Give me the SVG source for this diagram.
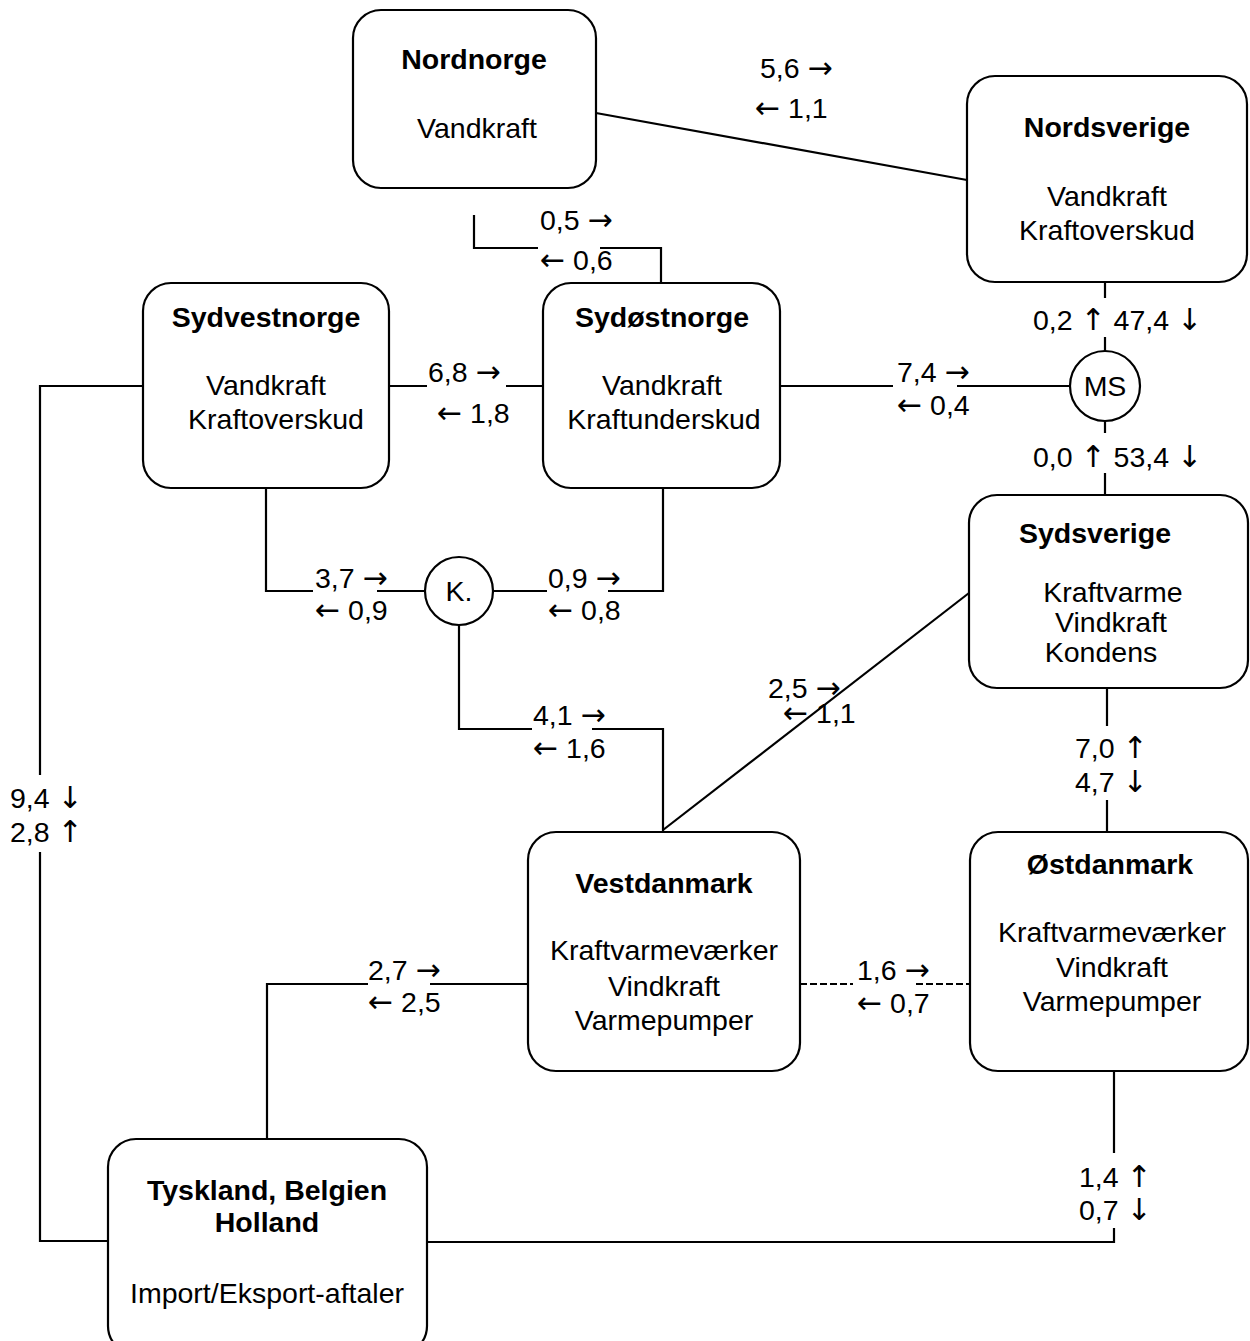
<svg xmlns="http://www.w3.org/2000/svg" width="1250" height="1341" viewBox="0 0 1250 1341">
<style>
.box{fill:#fff;stroke:#000;stroke-width:2.2}
.ln{fill:none;stroke:#000;stroke-width:2.2}
.dash{fill:none;stroke:#000;stroke-width:2;stroke-dasharray:7 3}
text{font-family:"Liberation Sans",Arial,sans-serif;font-size:28.5px;fill:#000}
.ar{font-family:"DejaVu Sans",sans-serif;font-size:30px}
.t{font-weight:bold;text-anchor:middle}
.b{text-anchor:middle}
</style>
<rect width="1250" height="1341" fill="#fff"/>
<g id="connectors">
<path class="ln" d="M596,113 L967,180"/>
<path class="ln" d="M474,215 V248 H538 M600,248 H661 V283"/>
<path class="ln" d="M389,386 H427 M506,386 H543"/>
<path class="ln" d="M780,386 H893 M957,386 H1070"/>
<path class="ln" d="M1105,282 V298 M1105,337 V351"/>
<path class="ln" d="M1105,421 V433 M1105,473 V495"/>
<path class="ln" d="M266,488 V591 H313 M377,591 H425"/>
<path class="ln" d="M493,591 H547 M608,591 H663 V488"/>
<path class="ln" d="M459,625 V729 H532 M592,729 H663 V832"/>
<path class="ln" d="M663,830 L969,593"/>
<path class="ln" d="M1107,688 V726 M1107,800 V832"/>
<path class="dash" d="M800,984 H853 M916,984 H970"/>
<path class="ln" d="M1114,1071 V1153 M1114,1228 V1242 H427"/>
<path class="ln" d="M528,984 H430 M368,984 H267 V1139"/>
<path class="ln" d="M143,386 H40 V775 M40,852 V1241 H108"/>
</g>
<g id="labels">
<text x="760" y="78">5,6 <tspan class="ar">→</tspan></text>
<text x="755" y="118"><tspan class="ar">←</tspan> 1,1</text>
<text x="540" y="230">0,5 <tspan class="ar">→</tspan></text>
<text x="540" y="270"><tspan class="ar">←</tspan> 0,6</text>
<text x="428" y="382">6,8 <tspan class="ar">→</tspan></text>
<text x="437" y="423"><tspan class="ar">←</tspan> 1,8</text>
<text x="897" y="382">7,4 <tspan class="ar">→</tspan></text>
<text x="897" y="415"><tspan class="ar">←</tspan> 0,4</text>
<text x="1033" y="330">0,2 <tspan class="ar">↑</tspan> 47,4 <tspan class="ar">↓</tspan></text>
<text x="1033" y="467">0,0 <tspan class="ar">↑</tspan> 53,4 <tspan class="ar">↓</tspan></text>
<text x="315" y="588">3,7 <tspan class="ar">→</tspan></text>
<text x="315" y="620"><tspan class="ar">←</tspan> 0,9</text>
<text x="548" y="588">0,9 <tspan class="ar">→</tspan></text>
<text x="548" y="620"><tspan class="ar">←</tspan> 0,8</text>
<text x="533" y="725">4,1 <tspan class="ar">→</tspan></text>
<text x="533" y="758"><tspan class="ar">←</tspan> 1,6</text>
<text x="768" y="698">2,5 <tspan class="ar">→</tspan></text>
<text x="783" y="723"><tspan class="ar">←</tspan> 1,1</text>
<text x="1075" y="758">7,0 <tspan class="ar">↑</tspan></text>
<text x="1075" y="792">4,7 <tspan class="ar">↓</tspan></text>
<text x="10" y="808">9,4 <tspan class="ar">↓</tspan></text>
<text x="10" y="842">2,8 <tspan class="ar">↑</tspan></text>
<text x="857" y="980">1,6 <tspan class="ar">→</tspan></text>
<text x="857" y="1013"><tspan class="ar">←</tspan> 0,7</text>
<text x="368" y="980">2,7 <tspan class="ar">→</tspan></text>
<text x="368" y="1012"><tspan class="ar">←</tspan> 2,5</text>
<text x="1079" y="1187">1,4 <tspan class="ar">↑</tspan></text>
<text x="1079" y="1220">0,7 <tspan class="ar">↓</tspan></text>
</g>
<g id="nordnorge">
<rect class="box" x="353" y="10" width="243" height="178" rx="28"/>
<text class="t" x="474" y="69">Nordnorge</text>
<text class="b" x="477" y="138">Vandkraft</text>
</g>
<g id="nordsverige">
<rect class="box" x="967" y="76" width="280" height="206" rx="28"/>
<text class="t" x="1107" y="137">Nordsverige</text>
<text class="b" x="1107" y="206">Vandkraft</text>
<text class="b" x="1107" y="240">Kraftoverskud</text>
</g>
<g id="sydvestnorge">
<rect class="box" x="143" y="283" width="246" height="205" rx="28"/>
<text class="t" x="266" y="327">Sydvestnorge</text>
<text class="b" x="266" y="395">Vandkraft</text>
<text class="b" x="276" y="429">Kraftoverskud</text>
</g>
<g id="sydostnorge">
<rect class="box" x="543" y="283" width="237" height="205" rx="28"/>
<text class="t" x="662" y="327">Sydøstnorge</text>
<text class="b" x="662" y="395">Vandkraft</text>
<text class="b" x="664" y="429">Kraftunderskud</text>
</g>
<g id="ms">
<circle class="box" cx="1105" cy="386" r="35"/>
<text class="b" x="1105" y="396">MS</text>
</g>
<g id="k">
<circle class="box" cx="459" cy="591" r="34"/>
<text class="b" x="459" y="601">K.</text>
</g>
<g id="sydsverige">
<rect class="box" x="969" y="495" width="279" height="193" rx="28"/>
<text class="t" x="1095" y="543">Sydsverige</text>
<text class="b" x="1113" y="602">Kraftvarme</text>
<text class="b" x="1111" y="632">Vindkraft</text>
<text class="b" x="1101" y="662">Kondens</text>
</g>
<g id="vestdanmark">
<rect class="box" x="528" y="832" width="272" height="239" rx="28"/>
<text class="t" x="664" y="893">Vestdanmark</text>
<text class="b" x="664" y="960">Kraftvarmeværker</text>
<text class="b" x="664" y="996">Vindkraft</text>
<text class="b" x="664" y="1030">Varmepumper</text>
</g>
<g id="ostdanmark">
<rect class="box" x="970" y="832" width="278" height="239" rx="28"/>
<text class="t" x="1110" y="874">Østdanmark</text>
<text class="b" x="1112" y="942">Kraftvarmeværker</text>
<text class="b" x="1112" y="977">Vindkraft</text>
<text class="b" x="1112" y="1011">Varmepumper</text>
</g>
<g id="tyskland">
<rect class="box" x="108" y="1139" width="319" height="215" rx="28"/>
<text class="t" x="267" y="1200">Tyskland, Belgien</text>
<text class="t" x="267" y="1232">Holland</text>
<text class="b" x="267" y="1303">Import/Eksport-aftaler</text>
</g>
</svg>
